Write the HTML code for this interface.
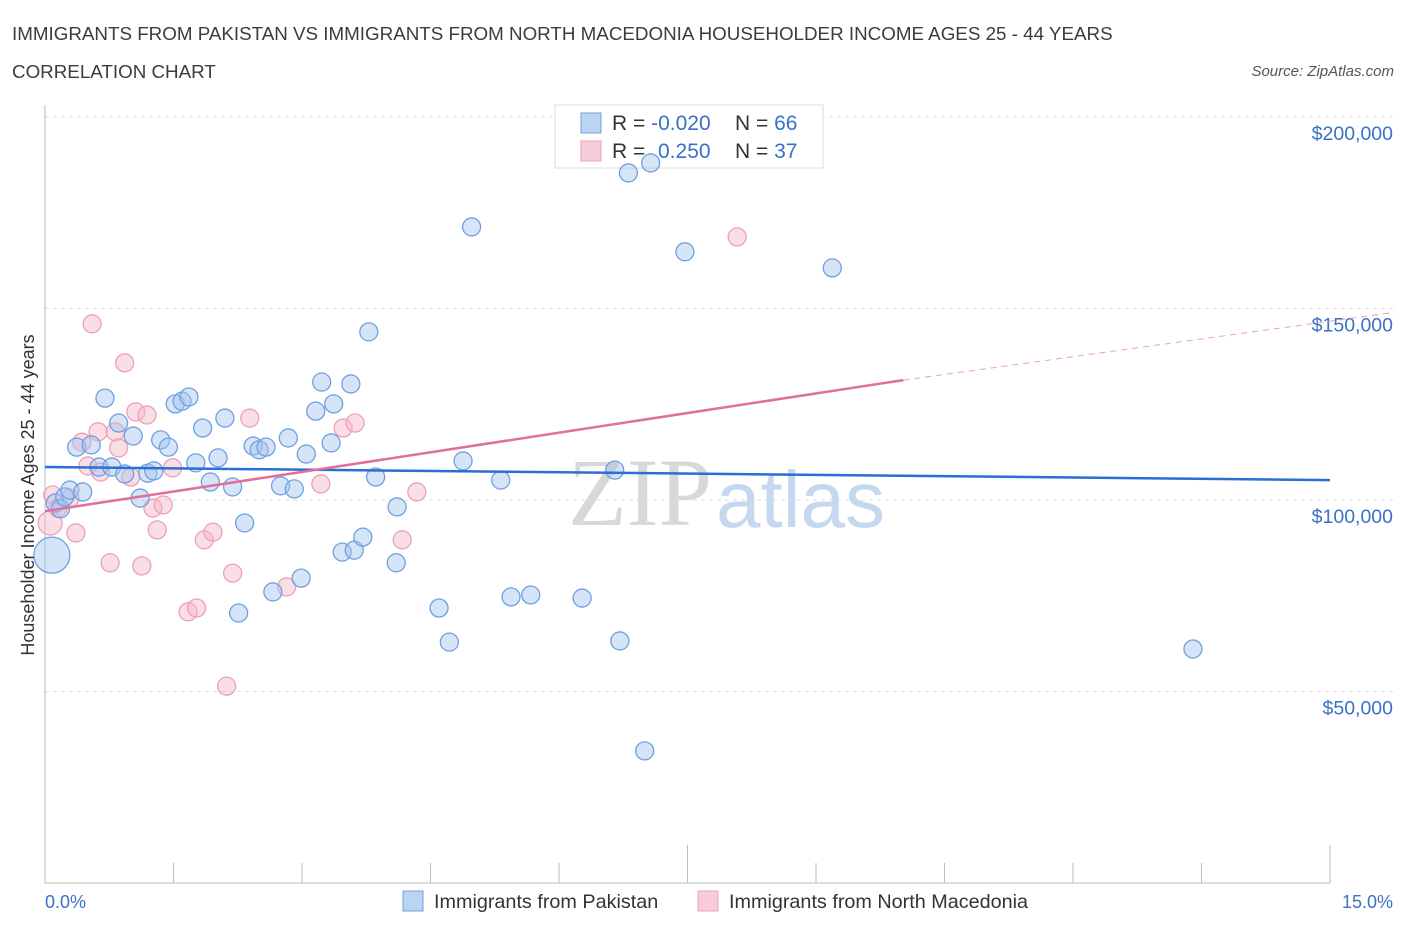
<!DOCTYPE html>
<html><head><meta charset="utf-8"><style>
body{margin:0;background:#fff;font-family:"Liberation Sans",sans-serif;}
svg{display:block}
</style></head><body>
<svg width="1406" height="930">
<text x="12" y="40" font-size="18.8" fill="#3c3c3c">IMMIGRANTS FROM PAKISTAN VS IMMIGRANTS FROM NORTH MACEDONIA HOUSEHOLDER INCOME AGES 25 - 44 YEARS</text>
<text x="12" y="78" font-size="18.8" fill="#3c3c3c">CORRELATION CHART</text>
<text x="1394" y="76" font-size="15" fill="#555" font-style="italic" text-anchor="end">Source: ZipAtlas.com</text>
<g id="grid"></g>
<text x="712" y="525" font-size="96" fill="#d8d8d8" font-family="Liberation Serif,serif" text-anchor="end">ZIP</text>
<text x="716" y="527" font-size="80" fill="#c5d8f0">atlas</text>
<line x1="45" y1="105" x2="45" y2="883" stroke="#bbb"/>
<line x1="45" y1="883" x2="1330" y2="883" stroke="#bbb"/>
<g id="xticks"></g>
<g>
<rect x="555" y="105" width="268" height="63" fill="#fff" stroke="#ddd"/>
<rect x="581" y="113" width="20" height="20" fill="#bcd4f4" stroke="#6fa0e0"/>
<rect x="581" y="141" width="20" height="20" fill="#f8ccd9" stroke="#eda0b8"/>
<text x="612" y="130" font-size="21" fill="#333">R = <tspan fill="#3a70c8">-0.020</tspan><tspan x="735">N = </tspan><tspan fill="#3a70c8">66</tspan></text>
<text x="612" y="158" font-size="21" fill="#333">R = <tspan x="658" fill="#3a70c8">0.250</tspan><tspan x="735">N = </tspan><tspan fill="#3a70c8">37</tspan></text>
</g>
<g id="pts"></g>
<g id="lines"></g>
<text x="34" y="495" font-size="18" fill="#333" text-anchor="middle" transform="rotate(-90 34 495)">Householder Income Ages 25 - 44 years</text>
<text x="45" y="908" font-size="18" fill="#3a70c8">0.0%</text>
<text x="1393" y="908" font-size="18" fill="#3a70c8" text-anchor="end">15.0%</text>
<g>
<rect x="403" y="891" width="20" height="20" fill="#bcd4f4" stroke="#6fa0e0"/>
<text x="434" y="908" font-size="19.8" fill="#333">Immigrants from Pakistan</text>
<rect x="698" y="891" width="20" height="20" fill="#f8ccd9" stroke="#eda0b8"/>
<text x="729" y="908" font-size="19.8" fill="#333">Immigrants from North Macedonia</text>
</g>
</svg>
<script>
const yTicks=[50000,100000,150000,200000];
const yTickLabels=["$50,000","$100,000","$150,000","$200,000"];
const blueX=[0.08,0.12,0.18,0.23,0.29,0.44,0.37,0.54,0.63,0.70,0.78,0.86,0.93,1.03,1.11,1.20,1.27,1.35,1.44,1.52,1.60,1.68,1.76,1.84,1.93,2.02,2.10,2.19,2.26,2.33,2.43,2.50,2.58,2.66,2.75,2.84,2.91,2.99,3.05,3.16,3.23,3.34,3.37,3.47,3.57,3.61,3.71,3.78,3.86,4.10,4.11,4.60,4.72,4.88,4.98,5.32,5.44,5.67,6.27,6.65,6.71,6.81,7.00,7.07,7.47,9.19,13.40];
const blueY=[85.6,99.2,97.7,100.8,102.6,102.1,113.8,114.4,108.6,126.6,108.6,120.1,106.8,116.7,100.5,107.0,107.6,115.7,113.8,125.1,125.8,126.9,109.7,118.8,104.7,111.0,121.4,103.4,70.5,94.0,114.1,113.1,113.8,76.0,103.7,116.2,102.9,79.6,112.0,123.2,130.8,114.9,125.1,86.4,130.3,86.9,90.3,143.9,106.0,83.6,98.2,71.8,62.9,110.2,171.3,105.2,74.7,75.2,74.4,107.8,63.2,185.4,34.5,188.0,164.8,160.6,61.1];
const pinkX=[0.06,0.09,0.15,0.29,0.36,0.43,0.50,0.55,0.62,0.65,0.76,0.82,0.86,0.93,1.00,1.06,1.13,1.19,1.26,1.31,1.38,1.49,1.67,1.77,1.86,1.96,2.12,2.19,2.39,2.82,3.22,3.48,3.62,4.17,4.34,8.08];
const pinkY=[94.0,101.3,97.9,100.5,91.4,115.1,108.9,146.0,117.8,107.3,83.6,117.8,113.6,135.8,106.0,123.0,82.8,122.2,97.9,92.2,98.7,108.4,70.8,71.8,89.6,91.6,51.4,80.9,121.4,77.3,104.2,118.8,120.1,89.6,102.1,168.7];
const blueTrend=[108.6,105.2];
const pinkTrend=[97.1,131.3,149.0];
const NS="http://www.w3.org/2000/svg";
const X=v=>45+v/15*1285;
const Y=v=>500-(v-100000)*191.5/50000;
function mk(t,a,p){const e=document.createElementNS(NS,t);for(const k in a)e.setAttribute(k,a[k]);p.appendChild(e);return e;}
const grid=document.getElementById('grid');
yTicks.forEach((t,i)=>{
 const l=mk('line',{x1:45,x2:1393,y1:Y(t),y2:Y(t),stroke:'#ddd','stroke-dasharray':'4 4'},grid);
 
 
 const tx=mk('text',{x:1393,y:Y(t)+23,'font-size':19.5,fill:'#3a70c8','text-anchor':'end'},grid);
 tx.textContent=yTickLabels[i];
 
 
});
const xt=document.getElementById('xticks');
for(let i=0;i<=10;i++){const l=mk('line',{x1:X(i*1.5),x2:X(i*1.5),y1:i%5==0?845:863,y2:883,stroke:'#bbb'},xt);
 
 }
const pts=document.getElementById('pts');
pinkX.forEach((x,i)=>{const c=mk('circle',{cx:X(x),cy:Y(pinkY[i]*1000),r:i==0?12:9,fill:'rgba(244,182,200,0.45)',stroke:'#eda0b8','stroke-width':1.3},pts);
 
 });
blueX.forEach((x,i)=>{const c=mk('circle',{cx:X(x),cy:Y(blueY[i]*1000),r:i==0?18:9,fill:'rgba(164,196,240,0.45)',stroke:'#6fa0e0','stroke-width':1.3},pts);
 
 });
const lg=document.getElementById('lines');
let b=mk('line',{x1:X(0),y1:Y(blueTrend[0]*1000),x2:X(15),y2:Y(blueTrend[1]*1000),stroke:'#2a6fd4','stroke-width':2.5},lg);


let p=mk('line',{x1:X(0),y1:Y(pinkTrend[0]*1000),x2:X(10.02),y2:Y(pinkTrend[1]*1000),stroke:'#e0709a','stroke-width':2.5},lg);


let pd=mk('line',{x1:X(10.02),y1:Y(pinkTrend[1]*1000),x2:X(15.75),y2:Y(pinkTrend[2]*1000),stroke:'#e8a0b8','stroke-width':1,'stroke-dasharray':'6 5'},lg);


</script>
</body></html>
